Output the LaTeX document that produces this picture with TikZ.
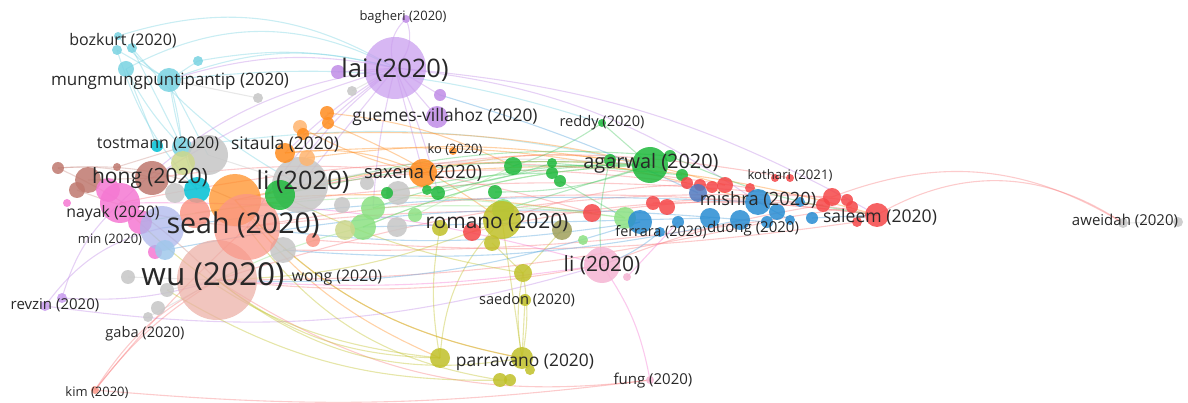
\documentclass[tikz,border=0pt]{standalone}
\usepackage{fontspec}
\setmainfont{Open Sans}
\pgfdeclarelayer{links}
\pgfsetlayers{links,main}

% cluster colours
\definecolor{vred}{RGB}{245,70,72}
\definecolor{vgreen}{RGB}{30,185,60}
\definecolor{vblue}{RGB}{40,140,210}
\definecolor{vslate}{RGB}{80,120,190}
\definecolor{volive}{RGB}{192,192,40}
\definecolor{vpurple}{RGB}{192,140,230}
\definecolor{vlilac}{RGB}{200,155,238}
\definecolor{vcyan}{RGB}{120,210,225}
\definecolor{vteal}{RGB}{0,192,212}
\definecolor{vorange}{RGB}{255,140,30}
\definecolor{vlorange}{RGB}{255,180,110}
\definecolor{vbrown}{RGB}{190,120,110}
\definecolor{vpink}{RGB}{245,120,210}
\definecolor{vlgreen}{RGB}{140,225,130}
\definecolor{vgray}{RGB}{198,198,198}
\definecolor{vsalmon}{RGB}{250,150,135}
\definecolor{vlpink}{RGB}{245,180,210}
\definecolor{vlav}{RGB}{170,180,235}
\definecolor{vlblue}{RGB}{160,200,235}
\definecolor{vpeach}{RGB}{235,175,165}
\definecolor{vpale}{RGB}{205,215,140}
\definecolor{vmud}{RGB}{160,160,90}
\definecolor{labelgray}{RGB}{40,40,40}

\tikzset{
  bub/.style={circle,inner sep=0pt,minimum size=2*#1,draw=none,fill opacity=.85},
  bigbub/.style={circle,inner sep=0pt,minimum size=2*#1,draw=none,fill opacity=.72},
  link/.style={line width=1.1pt,draw opacity=.4},
  lab/.style={text=labelgray,inner sep=0pt,font=\fontsize{#1}{#1}\selectfont}
}

\begin{document}
\begin{tikzpicture}[x=1pt,y=-1pt]
\useasboundingbox (0,0) rectangle (1188,403);

% ---- bubbles ----
% cyan group
\node[bub=4pt,fill=vcyan] (c1) at (118,36) {};
\node[bub=5pt,fill=vcyan] (c2) at (117,50) {};
\node[bub=5pt,fill=vcyan] (c3) at (132,48) {};
\node[bub=8pt,fill=vcyan] (c4) at (126,69) {};
\node[bub=12pt,fill=vcyan] (c5) at (169,80) {};
\node[bub=5pt,fill=vcyan] (c6) at (198,61) {};
\node[bub=6pt,fill=vteal] (c7) at (157,146) {};
\node[bub=10pt,fill=vcyan] (c8) at (182,147) {};
% grey group
\node[bub=5pt,fill=vgray] (g1) at (258,98) {};
\node[bub=5pt,fill=vgray] (g2) at (352,91) {};
\node[bub=20pt,fill=vgray] (g3) at (208,155) {};
\node[bub=28pt,fill=vgray] (g4) at (300,185) {};
\node[bub=10pt,fill=vgray] (g5) at (175,193) {};
\node[bub=13pt,fill=vgray] (g6) at (283,250) {};
\node[bub=7pt,fill=vgray] (g7) at (128,277) {};
\node[bub=7pt,fill=vgray] (g8) at (167,290) {};
\node[bub=7pt,fill=vgray] (g9) at (158,308) {};
\node[bub=5pt,fill=vgray] (g10) at (148,317) {};
\node[bub=7pt,fill=vgray] (g11) at (367,183) {};
\node[bub=12pt,fill=vgray] (g12) at (398,193) {};
\node[bub=8pt,fill=vgray] (g13) at (342,205) {};
\node[bub=10pt,fill=vgray] (g14) at (397,227) {};
\node[bub=5pt,fill=vgray] (g15) at (1123,223) {};
\node[bub=5pt,fill=vgray] (g16) at (1178,222) {};
% purple group
\node[bigbub=31pt,fill=vlilac] (p1) at (395,68) {};
\node[bub=7pt,fill=vpurple] (p2) at (338,72) {};
\node[bub=4pt,fill=vpurple] (p3) at (406,19) {};
\node[bub=6pt,fill=vpurple] (p4) at (440,95) {};
\node[bub=11pt,fill=vpurple] (p5) at (437,117) {};
\node[bub=5pt,fill=vlilac] (p6) at (45,306) {};
\node[bub=5pt,fill=vlilac] (p7) at (62,298) {};
% orange group
\node[bub=7pt,fill=vorange] (o1) at (327,113) {};
\node[bub=6pt,fill=vorange] (o2) at (328,123) {};
\node[bub=7pt,fill=vlorange] (o3) at (300,127) {};
\node[bub=6pt,fill=vorange] (o4) at (303,134) {};
\node[bub=10pt,fill=vorange] (o5) at (285,153) {};
\node[bub=8pt,fill=vlorange] (o6) at (307,158) {};
\node[bigbub=26pt,fill=vorange] (o7) at (235,200) {};
\node[bub=14pt,fill=vorange] (o8) at (423,173) {};
\node[bub=4pt,fill=vorange] (o9) at (453,151) {};
% brown group
\node[bub=6pt,fill=vbrown] (b1) at (58,168) {};
\node[bub=13pt,fill=vbrown] (b2) at (88,180) {};
\node[bub=8pt,fill=vbrown] (b3) at (77,190) {};
\node[bub=4pt,fill=vbrown] (b4) at (117,167) {};
% pink group
\node[bub=4pt,fill=vpink] (k1) at (67,203) {};
\node[bub=20pt,fill=vpink] (k2) at (120,203) {};
\node[bub=12pt,fill=vpink] (k3) at (140,222) {};
\node[bub=7pt,fill=vpink] (k4) at (155,252) {};
\node[bub=12pt,fill=vpink] (k5) at (108,190) {};
\node[bub=17pt,fill=vbrown] (b5) at (152,178) {};
\node[bub=12pt,fill=vpale] (y1) at (183,163) {};
\node[bub=13pt,fill=vteal] (c9) at (197,190) {};
% lavender
\node[bigbub=22pt,fill=vlav] (v1) at (162,228) {};
\node[bub=10pt,fill=vlblue] (v2) at (165,250) {};
% salmon
\node[bub=15pt,fill=vsalmon] (s1) at (195,213) {};
\node[bigbub=40pt,fill=vpeach] (s4) at (217,280) {};
\node[bigbub=33pt,fill=vsalmon] (s2) at (247,227) {};
\node[bub=7pt,fill=vsalmon] (s3) at (313,240) {};
% green
\node[bub=15pt,fill=vgreen] (e1) at (280,195) {};
\node[bub=5pt,fill=vgreen] (e2) at (427,190) {};
\node[bub=7pt,fill=vgreen] (e3) at (438,193) {};
\node[bub=7pt,fill=vgreen] (e4) at (495,192) {};
\node[bub=9pt,fill=vgreen] (e5) at (513,166) {};
\node[bub=5pt,fill=vgreen] (e6) at (552,163) {};
\node[bub=6pt,fill=vgreen] (e7) at (552,173) {};
\node[bub=6pt,fill=vgreen] (e8) at (560,181) {};
\node[bub=18pt,fill=vgreen] (e9) at (650,165) {};
\node[bub=6pt,fill=vgreen] (e10) at (610,160) {};
\node[bub=6pt,fill=vgreen] (e11) at (670,156) {};
\node[bub=6pt,fill=vgreen] (e12) at (682,175) {};
\node[bub=4pt,fill=vgreen] (e13) at (602,123) {};
\node[bub=6pt,fill=vgreen] (e14) at (387,193) {};
% light green
\node[bub=12pt,fill=vlgreen] (l1) at (373,208) {};
\node[bub=13pt,fill=vlgreen] (l2) at (363,227) {};
\node[bub=7pt,fill=vlgreen] (l3) at (415,215) {};
\node[bub=11pt,fill=vlgreen] (l4) at (503,210) {};
\node[bub=11pt,fill=vlgreen] (l5) at (625,218) {};
\node[bub=5pt,fill=vlgreen] (l6) at (583,240) {};
\node[bub=10pt,fill=vpale] (y2) at (345,230) {};
% olive
\node[bub=8pt,fill=volive] (y4) at (440,228) {};
\node[bub=9pt,fill=vred] (r1) at (472,232) {};
\node[bub=19pt,fill=volive] (y3) at (502,220) {};
\node[bub=8pt,fill=volive] (y5) at (492,243) {};
\node[bub=9pt,fill=volive] (y6) at (523,273) {};
\node[bub=6pt,fill=volive] (y7) at (525,300) {};
\node[bub=10pt,fill=volive] (y8) at (440,358) {};
\node[bub=11pt,fill=volive] (y9) at (522,358) {};
\node[bub=5pt,fill=volive] (y10) at (530,370) {};
\node[bub=7pt,fill=volive] (y11) at (500,380) {};
\node[bub=6pt,fill=volive] (y12) at (510,380) {};
\node[bub=10pt,fill=vmud] (y13) at (562,230) {};
% red
\node[bub=9pt,fill=vred] (r2) at (592,213) {};
\node[bub=7pt,fill=vred] (r3) at (653,203) {};
\node[bub=8pt,fill=vred] (r4) at (667,207) {};
\node[bub=6pt,fill=vred] (r5) at (687,183) {};
\node[bub=6pt,fill=vred] (r6) at (700,185) {};
\node[bub=6pt,fill=vred] (r7) at (712,187) {};
\node[bub=8pt,fill=vred] (r8) at (725,185) {};
\node[bub=5pt,fill=vred] (r9) at (750,188) {};
\node[bub=4pt,fill=vred] (r10) at (775,178) {};
\node[bub=4pt,fill=vred] (r11) at (790,178) {};
\node[bub=7pt,fill=vred] (r12) at (823,205) {};
\node[bub=9pt,fill=vred] (r13) at (832,197) {};
\node[bub=6pt,fill=vred] (r14) at (847,200) {};
\node[bub=6pt,fill=vred] (r15) at (852,207) {};
\node[bub=12pt,fill=vred] (r16) at (877,215) {};
\node[bub=5pt,fill=vred] (r17) at (857,222) {};
\node[bub=4pt,fill=vsalmon] (r18) at (95,390) {};
% blue
\node[bub=9pt,fill=vslate] (u1) at (698,193) {};
\node[bub=12pt,fill=vblue] (u2) at (640,222) {};
\node[bub=5pt,fill=vblue] (u3) at (660,232) {};
\node[bub=6pt,fill=vblue] (u4) at (678,222) {};
\node[bub=10pt,fill=vblue] (u5) at (710,218) {};
\node[bub=10pt,fill=vblue] (u6) at (740,220) {};
\node[bub=13pt,fill=vblue] (u7) at (758,202) {};
\node[bub=8pt,fill=vblue] (u8) at (777,212) {};
\node[bub=6pt,fill=vblue] (u9) at (767,222) {};
\node[bub=5pt,fill=vblue] (u10) at (800,202) {};
\node[bub=5pt,fill=vblue] (u11) at (790,220) {};
\node[bub=6pt,fill=vblue] (u12) at (812,218) {};
% light pink
\node[bub=18pt,fill=vlpink] (q1) at (602,265) {};
\node[bub=4pt,fill=vlpink] (q2) at (627,277) {};
\node[bub=4pt,fill=vlpink] (q3) at (650,380) {};

% ---- links ----
\begin{pgfonlayer}{links}
\foreach \a/\b/\bend in {c1/p1/24, c4/p1/28, c5/p1/18, c6/p1/12, c2/c5/0, c1/c5/-10, c3/c8/0,
  c4/c8/-8, c5/c8/5, c5/c9/-5, c6/c5/0, c5/g3/0, c4/c7/0, c8/e9/10, c5/e13/12, c3/g4/-10, c2/c9/-12}
  \draw[link,vcyan] (\a.center) to[bend left=\bend] (\b.center);
\foreach \a/\b/\bend in {p1/p3/35, p1/p3/-35, p1/p5/0, p1/p4/0, p1/p2/0, p1/o8/0, p1/e1/-10,
  p1/g4/0, p1/s2/-12, p1/k2/-18, p1/c5/-14, p1/u7/14, p1/r16/12, p1/b5/-8, p1/e3/5, p1/l1/-5,
  p6/v1/20, p7/s4/-10, p6/q1/-12, p7/k2/15, p1/o5/-6}
  \draw[link,vpurple] (\a.center) to[bend left=\bend] (\b.center);
\foreach \a/\b/\bend in {o8/o5/-15, o8/e9/12, o8/r16/10, o1/e5/10, o5/u7/10, o7/e9/8, o7/y9/-18,
  o3/o8/-8, o7/r2/6, o2/y3/6, o6/e10/8, o7/y8/-14, o4/r8/9}
  \draw[link,vorange] (\a.center) to[bend left=\bend] (\b.center);
\foreach \a/\b/\bend in {s2/r16/8, s4/r13/10, s4/q1/-8, s4/r18/-15, r18/q3/-6, r16/g15/32,
  r13/g15/26, r1/r16/10, r2/r12/6, y3/r8/10, s2/r2/4, k2/r9/10, b5/r2/12, e1/r11/12, r3/r16/8,
  s4/q3/-20, r18/s4/10, r18/s2/4, s1/r14/7, o7/r5/9, s3/r17/-6, g6/r15/-5, q1/r12/6, s4/u9/-6}
  \draw[link,vred!70] (\a.center) to[bend left=\bend] (\b.center);
\foreach \a/\b/\bend in {e9/e5/0, e9/e4/10, e9/e13/0, e5/e13/-8, e9/l2/-10, e9/e1/-8, e8/l5/0,
  e6/e12/0, e3/e9/8, l1/e9/10, l4/e9/0, e10/q1/-10, e1/e11/10, e14/e7/6, e2/e6/-6, e11/r16/-8}
  \draw[link,vgreen!80] (\a.center) to[bend left=\bend] (\b.center);
\foreach \a/\b/\bend in {y3/y8/-20, y3/y9/0, y6/y9/10, y6/y9/-10, y7/y9/0, y8/s4/18, y9/s4/24,
  y8/k2/20, y11/s2/22, y5/y6/0, y4/y8/-10, y3/s4/10, y9/o7/18, y12/g8/16, y6/e1/8, y13/y6/0}
  \draw[link,volive] (\a.center) to[bend left=\bend] (\b.center);
\foreach \a/\b/\bend in {u2/s4/10, u7/v1/-5, u5/l2/0, u6/g6/8, u1/p4/-4, u12/r16/0, u11/u7/0,
  u3/q1/10, u2/s2/8, u9/k4/-8}
  \draw[link,vblue!80] (\a.center) to[bend left=\bend] (\b.center);
\foreach \a/\b/\bend in {q1/q3/12, q1/s4/6, q1/k2/-8, q2/u4/0}
  \draw[link,vpink] (\a.center) to[bend left=\bend] (\b.center);
\foreach \a/\b/\bend in {l2/e9/10, l1/l5/5, l3/e5/0, l2/s4/-6, l5/k3/-9}
  \draw[link,vlgreen] (\a.center) to[bend left=\bend] (\b.center);
\foreach \a/\b/\bend in {b1/b5/10, b2/b5/0, b1/s4/10, b4/c8/0, b3/s2/-8, b1/o7/14}
  \draw[link,vbrown!80] (\a.center) to[bend left=\bend] (\b.center);
\foreach \a/\b/\bend in {g15/g16/0, g7/s4/0, g8/s4/0, g10/s4/0, g1/c5/0, g2/p1/0, g4/e9/8, g3/g4/0}
  \draw[link,vgray] (\a.center) to[bend left=\bend] (\b.center);
\end{pgfonlayer}

% ---- labels ----
\node[lab=13] (t-bagheri) at (403,17) {bagheri (2020)};
\node[lab=16] (t-bozkurt) at (123,41) {bozkurt (2020)};
\node[lab=25.5] (t-lai) at (395,70) {lai (2020)};
\node[lab=17] (t-mung) at (170,81) {mungmungpuntipantip (2020)};
\node[lab=17.4] (t-guemes) at (445,117) {guemes-villahoz (2020)};
\node[lab=14.6] (t-reddy) at (602,123) {reddy (2020)};
\node[lab=16] (t-tostmann) at (158,144) {tostmann (2020)};
\node[lab=17.4] (t-sitaula) at (285,144) {sitaula (2020)};
\node[lab=12.9] (t-ko) at (455,150) {ko (2020)};
\node[lab=21] (t-hong) at (150,178) {hong (2020)};
\node[lab=25.4] (t-li1) at (303,182) {li (2020)};
\node[lab=18.4] (t-saxena) at (423,173) {saxena (2020)};
\node[lab=19.9] (t-agarwal) at (651,163) {agarwal (2020)};
\node[lab=13.2] (t-kothari) at (790,176) {kothari (2021)};
\node[lab=18.3] (t-mishra) at (758,200) {mishra (2020)};
\node[lab=17.6] (t-saleem) at (880,217) {saleem (2020)};
\node[lab=15] (t-aweidah) at (1125,221) {aweidah (2020)};
\node[lab=28.6] (t-seah) at (243,225) {seah (2020)};
\node[lab=15.8] (t-nayak) at (113,213) {nayak (2020)};
\node[lab=13] (t-min) at (110,240) {min (2020)};
\node[lab=20.9] (t-romano) at (497,223) {romano (2020)};
\node[lab=14.4] (t-ferrara) at (661,232) {ferrara (2020)};
\node[lab=15] (t-duong) at (753,229) {duong (2020)};
\node[lab=31.6] (t-wu) at (213,277) {wu (2020)};
\node[lab=15.9] (t-wong) at (337,278) {wong (2020)};
\node[lab=21] (t-li2) at (602,265) {li (2020)};
\node[lab=15] (t-revzin) at (55,305) {revzin (2020)};
\node[lab=14.6] (t-saedon) at (527,300) {saedon (2020)};
\node[lab=14.6] (t-gaba) at (145,334) {gaba (2020)};
\node[lab=17.4] (t-parravano) at (525,362) {parravano (2020)};
\node[lab=13] (t-kim) at (97,393) {kim (2020)};
\node[lab=15] (t-fung) at (653,381) {fung (2020)};
\end{tikzpicture}
\end{document}
